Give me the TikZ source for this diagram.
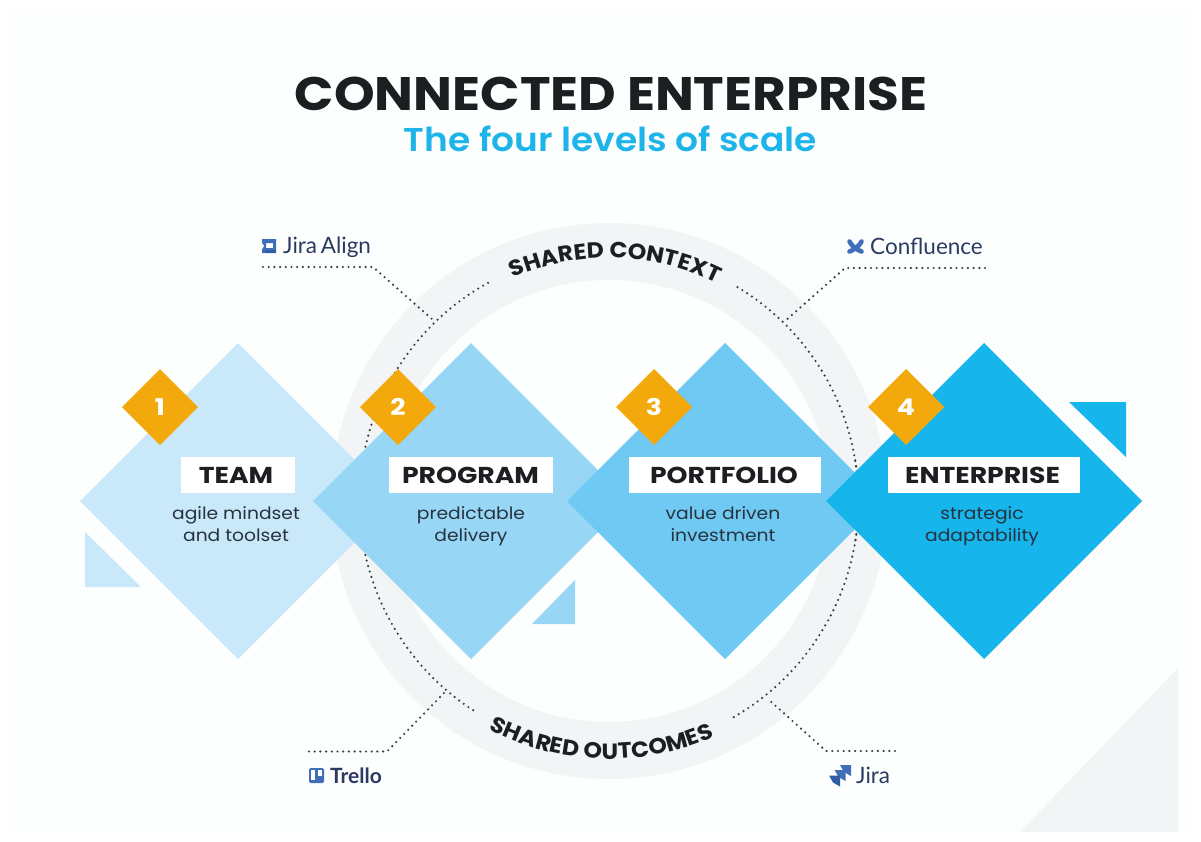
\documentclass[tikz,border=0pt]{standalone}
\usepackage{fontspec}
\setmainfont{Poppins}
\newfontfamily\hv{Poppins}[UprightFont={* Bold},FakeStretch=1.16]
\newfontfamily\ttl{Poppins}[UprightFont={* Bold},FakeStretch=1.10]
\newfontfamily\rng{Poppins}[UprightFont={* Bold},FakeStretch=1.07]
\newfontfamily\sbf{Poppins}[UprightFont={* SemiBold},FakeStretch=1.09]
\newfontfamily\rgf{Poppins}[FakeStretch=1.1]
\newfontfamily\tl{Lato}
\usetikzlibrary{decorations.text,calc}
\definecolor{panel}{HTML}{FDFEFE}
\definecolor{ringc}{HTML}{F3F4F5}
\definecolor{d1}{HTML}{C9E8FA}
\definecolor{d2}{HTML}{98D6F6}
\definecolor{d3}{HTML}{6FC9F3}
\definecolor{d4}{HTML}{16B6EC}
\definecolor{amber}{HTML}{F3A80B}
\definecolor{ink}{HTML}{1C1E22}
\definecolor{desct}{HTML}{26333F}
\definecolor{cyanT}{HTML}{1DB4EA}
\definecolor{navy}{HTML}{2A3A60}
\definecolor{logo}{HTML}{3F6FB8}
\definecolor{logod}{HTML}{2F5DA6}
\definecolor{dotc}{HTML}{3A3D45}
\tikzset{x=1pt,y=-1pt,
 lab/.style={font=\hv\fontsize{23}{26}\selectfont,text=ink,minimum height=36pt,inner sep=0pt,anchor=center},
 desc/.style={font=\rgf\fontsize{17}{22.5}\selectfont,text=desct,align=center,anchor=north},
 badge/.style={font=\hv\fontsize{23}{26}\selectfont,text=white},
 tool/.style={font=\tl\fontsize{22.5}{24}\selectfont,text=navy,anchor=base west,inner sep=0pt},
 dots/.style={draw=dotc,line width=2.4pt,line cap=round,dash pattern=on 0pt off 5.7pt},
}
\begin{document}
\begin{tikzpicture}
\useasboundingbox (0,0) rectangle (1201,841);
\fill[white] (0,0) rectangle (1201,841);
\fill[panel] (10,10) rectangle (1190,832);
\fill[ringc] (1178,668) -- (1178,832) -- (1020,832) -- cycle;
% ring
\coordinate (ctr) at (609,501);
\draw[ringc,line width=57pt] (ctr) circle[radius=249.5];
% dotted circle and ring text in an unflipped scope
\begin{scope}[y=1pt,shift={(609,-501)}]
 \foreach \a/\b in {119/190,237/170,-60/10,59/-10}{
  \draw[dots] (\a:249.5) arc[start angle=\a,end angle=\b,radius=249.5];
 }
 \path[postaction={decorate,decoration={text along path,text align=center,text={|\rng\fontsize{22}{24}\selectfont\color{ink}|SHARED CONTEXT}}}]
  (125:243) arc[start angle=125,end angle=52,radius=243];
 \path[postaction={decorate,decoration={text along path,text align=center,text={|\rng\fontsize{22}{24}\selectfont\color{ink}|SHARED OUTCOMES}}}]
  (228:258) arc[start angle=228,end angle=308.3,radius=258];
\end{scope}
% diamonds
\fill[d1] (238,343) -- (396,501) -- (238,659) -- (80,501) -- cycle;
\fill[d1] (85,532) -- (141,587) -- (85,587) -- cycle;
\fill[d2] (471,343) -- (629,501) -- (471,659) -- (313,501) -- cycle;
\fill[d2] (575,580) -- (575,624) -- (532,624) -- cycle;
\fill[d3] (725,343) -- (883,501) -- (725,659) -- (567,501) -- cycle;
\fill[d4] (984,343) -- (1142,501) -- (984,659) -- (826,501) -- cycle;
\fill[d4] (1069,402) -- (1126,402) -- (1126,457) -- cycle;
% badges
\foreach \n/\x in {1/160,2/398,3/654,4/906}{
 \fill[amber] (\x,369) -- (\x+38,407) -- (\x,445) -- (\x-38,407) -- cycle;
 \node[badge] (b\n) at (\x,407) {\n};
}
% labels
\fill[white] (181,457) rectangle (295,493);
\node[lab] (team) at (236,475) {TEAM};
\fill[white] (389,457) rectangle (553,493);
\node[lab] (prog) at (470.5,475) {PROGRAM};
\fill[white] (629,457) rectangle (821,493);
\node[lab] (port) at (724,475) {PORTFOLIO};
\fill[white] (888,457) rectangle (1080,493);
\node[lab] (ent) at (982.5,475) {ENTERPRISE};
\node[desc] (dteam) at (236,503) {agile mindset\\and toolset};
\node[desc] (dprog) at (471,503) {predictable\\delivery};
\node[desc] (dport) at (723,503) {value driven\\investment};
\node[desc] (dent) at (982,503) {strategic\\adaptability};
% title
\node[font=\ttl\fontsize{47}{50}\selectfont,text=ink,anchor=base,inner sep=0pt] (title) at (611,110) {CONNECTED ENTERPRISE};
\node[font=\sbf\fontsize{33}{38}\selectfont,text=cyanT,anchor=base,inner sep=0pt] (sub) at (610.5,151) {The four levels of scale};
% leaders
\coordinate (a1) at (263,267); \coordinate (a2) at (373,267); \coordinate (a3) at (432,319);
\draw[dots] (a1) -- (a2) -- (a3);
\coordinate (c1) at (985,268); \coordinate (c2) at (845,268); \coordinate (c3) at (785,321);
\draw[dots] (c1) -- (c2) -- (c3);
\coordinate (t1) at (309,751.5); \coordinate (t2) at (387,751.5); \coordinate (t3) at (445,692);
\draw[dots] (t1) -- (t2) -- (t3);
\coordinate (j1) at (895,751); \coordinate (j2) at (826,751); \coordinate (j3) at (768,699);
\draw[dots] (j1) -- (j2) -- (j3);
% tools
\node[tool] (jal) at (283,253) {Jira\hspace{-2pt} Align};
\node[tool] (con) at (870,254) {Confluence};
\node[tool,font=\tl\bfseries\fontsize{21}{24}\selectfont] (tre) at (330,783) {Trello};
\node[tool] (jir) at (856,783) {Jira};
% Jira Align icon
\fill[logo,even odd rule] (262,239) rectangle (276,253) (266,243) rectangle (273,248);
\fill[white] (262,243) -- (264,246) -- (262,249) -- cycle;
\fill[logod] (265,250) rectangle (276,253);
% Confluence icon
\draw[logo,line width=4.6pt,line cap=round] (849.5,241.5) .. controls (853,248) and (858,250) .. (861.5,251.5);
\draw[logo,line width=4.6pt,line cap=round] (849.5,251.5) .. controls (853,250) and (858,248) .. (861.5,241.5);
% Trello icon
\fill[logo,rounded corners=1.5pt] (309,768) rectangle (324,783);
\fill[white] (311,770) rectangle (315,780);
\fill[white] (318,770) rectangle (322,776);
% Jira icon
\foreach \tx/\ty/\cc in {851/765/logo,845.5/770/logo,840/775.5/logod}{
 \fill[\cc] (\tx-11,\ty) -- (\tx,\ty) -- (\tx,\ty+11) -- (\tx-7,\ty+7) -- cycle;
}
\end{tikzpicture}
\end{document}
